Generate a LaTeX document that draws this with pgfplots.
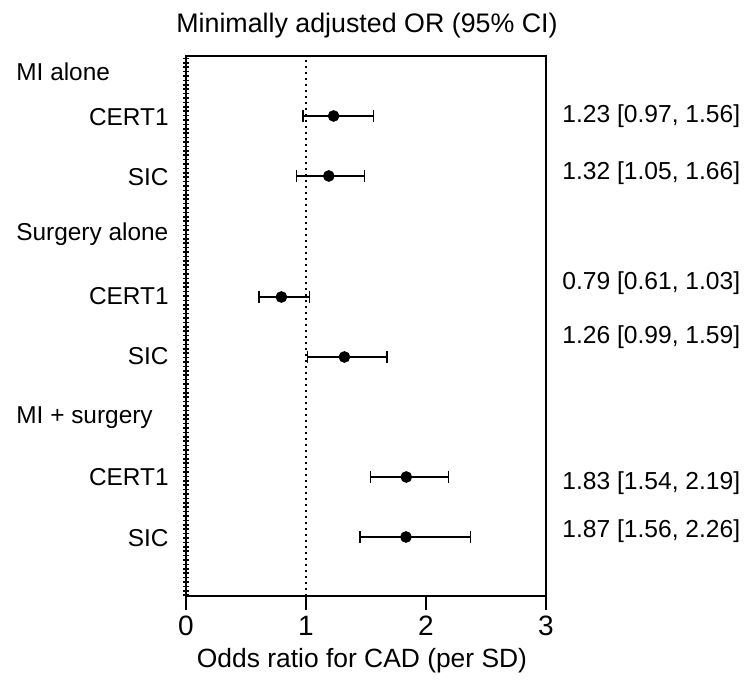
\documentclass[border=0pt]{standalone}
\usepackage{pgfplots}
\pgfplotsset{compat=1.18}
\usepackage{pgfplotstable}
\usepackage{fontspec}
\setmainfont{Liberation Sans}

% drawn estimates: x, row position, lower and upper CI half-widths
\pgfplotstableread{
x     y    em     ep
1.230 480  0.255  0.334
1.190 420  0.270  0.300
0.795 299  0.187  0.235
1.320 239  0.310  0.355
1.836 119  0.296  0.354
1.833  59  0.383  0.537
}\ortable

\begin{document}
\begin{tikzpicture}
\begin{axis}[
  scale only axis,
  width=180pt, height=270pt,
  xmin=0, xmax=3, ymin=0, ymax=540,
  xtick={0,1,2,3},
  ytick=\empty,
  axis line style={line width=1.4pt},
  tick style={line width=1.3pt, black},
  tick align=outside,
  major tick length=7pt,
  xtick pos=bottom,
  xticklabel style={font=\fontsize{14pt}{16pt}\selectfont, inner sep=0pt, yshift=-3pt},
  /pgf/number format/assume math mode=true,
  clip=false,
]
\addplot[line width=1.4pt] coordinates {(0,0) (0,540)};
\addplot[line width=2.6pt, dash pattern=on 0.8pt off 1.4pt] coordinates {(0,0) (0,540)};
\addplot[line width=1pt, dotted] coordinates {(1,0) (1,540)};
\addplot[only marks, mark=*, mark size=2.7pt, black,
  error bars/.cd, x dir=both, x explicit,
  error bar style={line width=0.6pt},
  error mark options={rotate=90, mark size=3pt, line width=0.6pt}]
  table[x=x, y=y, x error plus=ep, x error minus=em] {\ortable};
\end{axis}
\path[use as bounding box] (-93pt,-49pt) rectangle (281.5pt,298pt);
\begin{scope}[x=0.5pt, y=-0.5pt, shift={(-93pt,298pt)},
  every node/.style={font=\fontsize{12.2pt}{14pt}\selectfont, inner sep=0pt}]
\node[font=\fontsize{13.4pt}{15pt}\selectfont] at (367,26) {Minimally adjusted OR (95\% CI)};
\node[font=\fontsize{13.2pt}{15pt}\selectfont] at (362,661) {Odds ratio for CAD (per SD)};
\node[anchor=west] at (16,72) {MI alone};
\node[anchor=west] at (16,234) {Surgery alone};
\node[anchor=west] at (16,418) {MI + surgery};
\node[anchor=east] at (169,117) {CERT1};
\node[anchor=east] at (169,177) {SIC};
\node[anchor=east] at (169,296) {CERT1};
\node[anchor=east] at (169,356) {SIC};
\node[anchor=east] at (169,477) {CERT1};
\node[anchor=east] at (169,538) {SIC};
\begin{scope}[every node/.style={font=\fontsize{12.3pt}{14pt}\selectfont, inner sep=0pt, anchor=west}]
\node at (562,116) {1.23 [0.97, 1.56]};
\node at (562,173) {1.32 [1.05, 1.66]};
\node at (562,283) {0.79 [0.61, 1.03]};
\node at (562,337) {1.26 [0.99, 1.59]};
\node at (562,483) {1.83 [1.54, 2.19]};
\node at (562,531) {1.87 [1.56, 2.26]};
\end{scope}
\end{scope}
\end{tikzpicture}
\end{document}
